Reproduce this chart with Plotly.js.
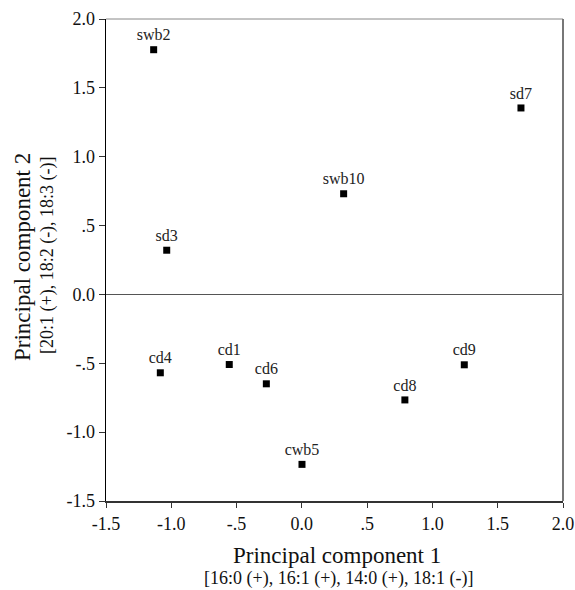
<!DOCTYPE html>
<html>
<head>
<meta charset="utf-8">
<script src="https://cdn.plot.ly/plotly-3.0.1.min.js"></script>
<style>html,body{margin:0;padding:0;background:#fff;}</style>
</head>
<body>
<div id="chart" style="width:575px;height:590px;"></div>
<script>
var labels = ["swb2", "sd3", "swb10", "sd7", "cd4", "cd1", "cd6", "cwb5", "cd9", "cd8"];
var pc1 = [-1.135, -1.035, 0.32, 1.678, -1.084, -0.556, -0.272, 0.001, 1.244, 0.789];
var pc2 = [1.777, 0.321, 0.731, 1.354, -0.569, -0.509, -0.649, -1.234, -0.511, -0.766];

var xTickVals = [-1.5, -1.0, -0.5, 0.0, 0.5, 1.0, 1.5, 2.0];
var xTickText = ["-1.5", "-1.0", "-.5", "0.0", ".5", "1.0", "1.5", "2.0"];
var yTickVals = [-1.5, -1.0, -0.5, 0.0, 0.5, 1.0, 1.5, 2.0];
var yTickText = ["-1.5", "-1.0", "-.5", "0.0", ".5", "1.0", "1.5", "2.0"];

var xTitle = "Principal component 1";
var xSub = "[16:0 (+), 16:1 (+), 14:0 (+), 18:1 (-)]";
var yTitle = "Principal component 2";
var ySub = "[20:1 (+), 18:2 (-), 18:3 (-)]";

var serif = "Liberation Serif";

var trace = {
  x: pc1, y: pc2, text: labels,
  mode: "markers+text", type: "scatter",
  textposition: "top center",
  textfont: {family: serif, size: 16, color: "#222"},
  marker: {symbol: "square", size: 7, color: "#000"},
  hoverinfo: "none", cliponaxis: false
};

var layout = {
  width: 575, height: 590, autosize: false,
  margin: {l: 106, r: 12, t: 19, b: 89, pad: 0},
  paper_bgcolor: "#fff", plot_bgcolor: "#fff",
  showlegend: false,
  font: {family: serif, size: 18, color: "#111"},
  xaxis: {
    range: [-1.5, 2.0], tickvals: xTickVals, ticktext: xTickText,
    showgrid: false, zeroline: false,
    showline: true, linecolor: "#333", linewidth: 2,
    ticks: "outside", ticklen: 5, tickwidth: 1, tickcolor: "#333",
    tickfont: {family: serif, size: 18, color: "#111"}, fixedrange: true
  },
  yaxis: {
    range: [-1.5, 2.0], tickvals: yTickVals, ticktext: yTickText,
    showgrid: false, zeroline: true, zerolinecolor: "#555", zerolinewidth: 1.5,
    showline: true, linecolor: "#000", linewidth: 1.5,
    ticks: "outside", ticklen: 6, tickwidth: 1, tickcolor: "#333",
    tickfont: {family: serif, size: 18, color: "#111"}, fixedrange: true
  },
  shapes: [
    {type: "line", xref: "paper", yref: "paper", x0: 0, x1: 1, y0: 1, y1: 1,
     line: {color: "#888", width: 1}},
    {type: "line", xref: "paper", yref: "paper", x0: 1, x1: 1, y0: 0, y1: 1,
     line: {color: "#777", width: 2}}
  ],
  annotations: [
    {text: xTitle, xref: "paper", yref: "paper", x: 0.5, y: 0, xanchor: "center", yanchor: "middle",
     yshift: -54, xshift: 2, showarrow: false, font: {family: serif, size: 23, color: "#111"}},
    {text: xSub, xref: "paper", yref: "paper", x: 0.5, y: 0, xanchor: "center", yanchor: "middle",
     yshift: -77, xshift: 4, showarrow: false, font: {family: serif, size: 18, color: "#111"}},
    {text: yTitle, xref: "paper", yref: "paper", x: 0, y: 0.5, xanchor: "center", yanchor: "middle",
     xshift: -84, yshift: 3, textangle: -90, showarrow: false, font: {family: serif, size: 23, color: "#111"}},
    {text: ySub, xref: "paper", yref: "paper", x: 0, y: 0.5, xanchor: "center", yanchor: "middle",
     xshift: -59, yshift: 5, textangle: -90, showarrow: false, font: {family: serif, size: 18, color: "#111"}}
  ]
};

Plotly.newPlot("chart", [trace], layout, {staticPlot: true, displayModeBar: false});
</script>
</body>
</html>
